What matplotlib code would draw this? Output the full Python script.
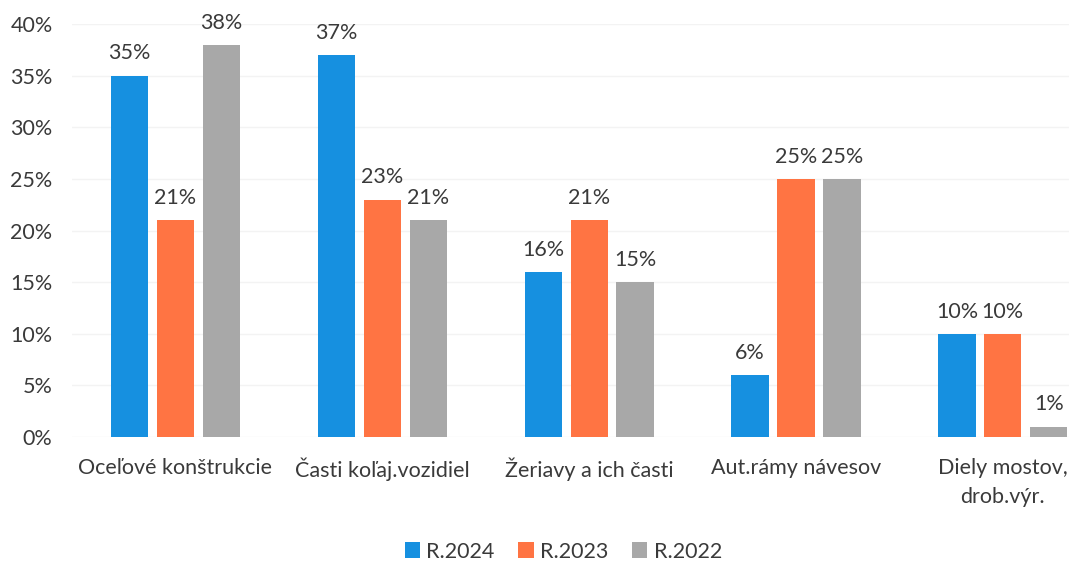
import matplotlib.pyplot as plt
import numpy as np

categories = ["Oceľové konštrukcie", "Časti koľaj.vozidiel", "Žeriavy a ich časti",
              "Aut.rámy návesov", "Diely mostov,\ndrob.výr."]
series_names = ["R.2024", "R.2023", "R.2022"]
r2024 = [35, 37, 16, 6, 10]
r2023 = [21, 23, 21, 25, 10]
r2022 = [38, 21, 15, 25, 1]
colors = ["#1690E0", "#FF7443", "#A8A8A8"]

plt.rcParams['font.family'] = ['Lato', 'DejaVu Sans']
text_color = "#3A3A3A"
fs = 15.5

fig = plt.figure(figsize=(10.69, 5.64), dpi=100)
ax = fig.add_axes([0.0674, 0.225, 0.9326, 0.732])

x = np.arange(len(categories))
width = 0.18
step = 0.222
for i, (vals, name) in enumerate(zip([r2024, r2023, r2022], series_names)):
    bars = ax.bar(x + (i - 1) * step, vals, width, color=colors[i], label=name, zorder=2)
    for b, v in zip(bars, vals):
        ax.text(b.get_x() + b.get_width() / 2, v + 1.2, f"{v}%", ha='center', va='bottom',
                fontsize=fs, color=text_color)

ax.set_ylim(0, 40)
ax.set_xlim(-0.5, 4.32)
ax.set_yticks(range(0, 41, 5))
ax.set_yticklabels([f"{t}%" for t in range(0, 41, 5)])
ax.set_xticks(x)
ax.set_xticklabels(categories, linespacing=1.55)
ax.tick_params(axis='both', length=0, labelsize=fs, colors=text_color)
ax.tick_params(axis='x', pad=15)
ax.tick_params(axis='y', pad=14)
ax.yaxis.grid(True, color="#F3F3F3", linewidth=1, zorder=0)
for s in ax.spines.values():
    s.set_visible(False)

fig.legend(loc='lower center', bbox_to_anchor=(0.527, -0.03), ncol=3, frameon=False,
           fontsize=fs, handlelength=0.7, handleheight=0.7, handletextpad=0.3,
           columnspacing=1.1, labelcolor=text_color)

fig.savefig("out.png", dpi=100)
